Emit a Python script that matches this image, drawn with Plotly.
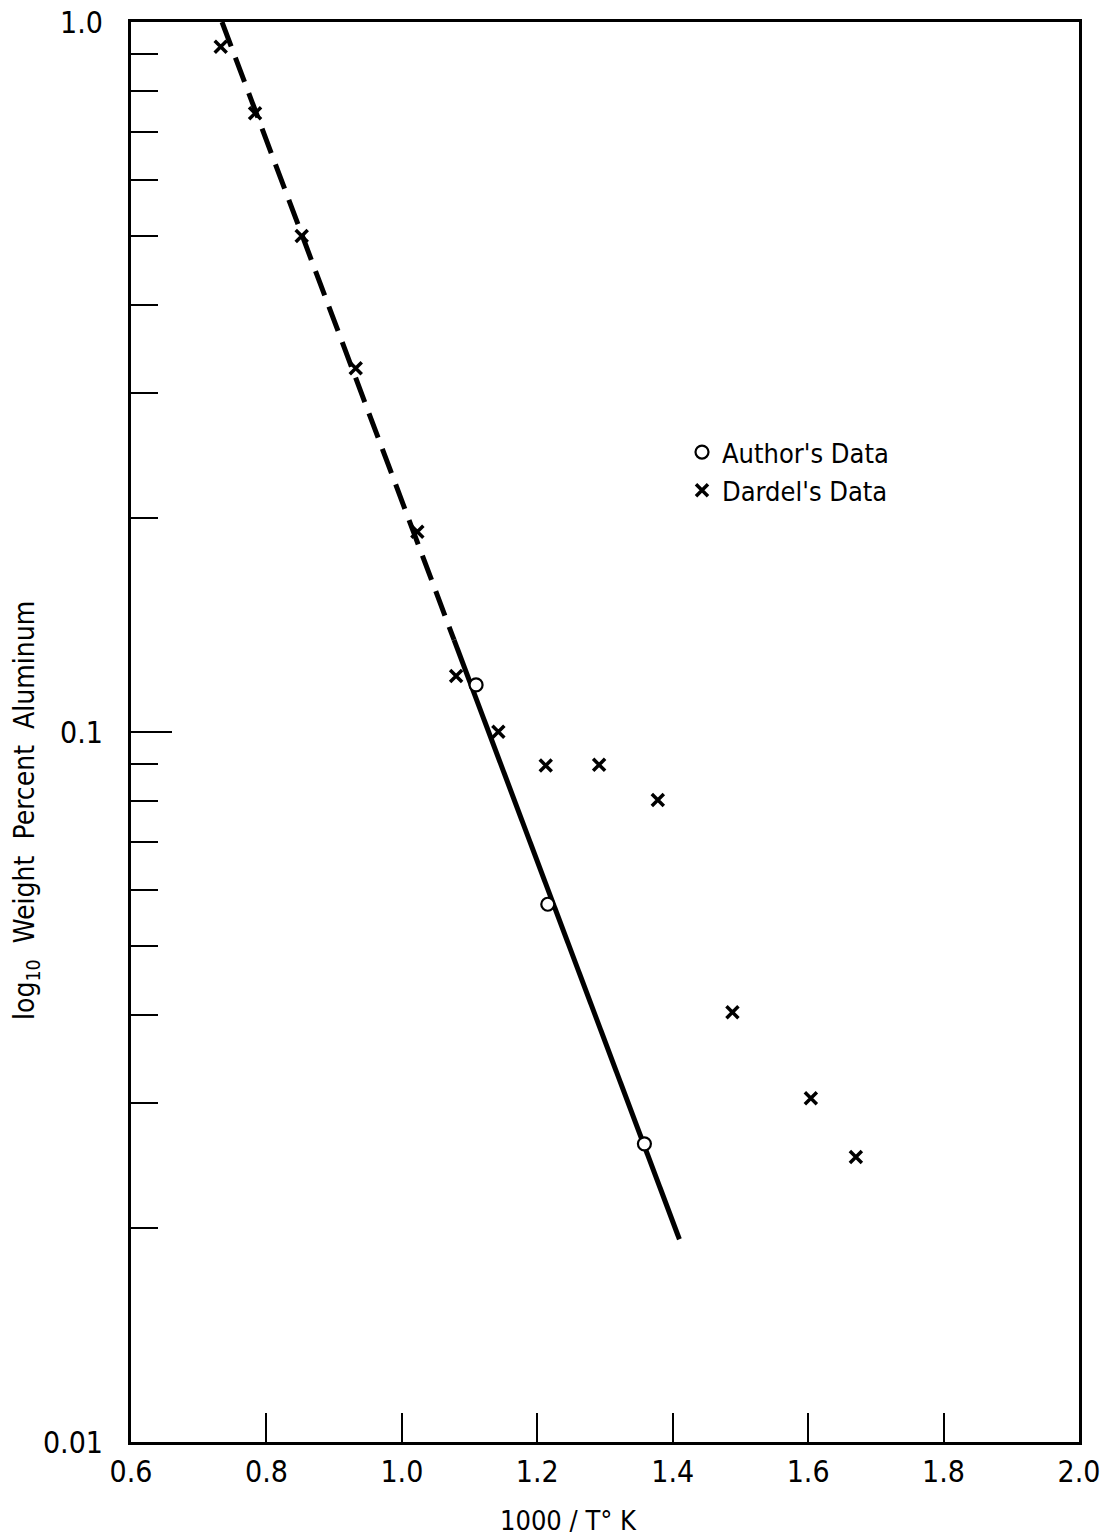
import plotly.graph_objects as go

# ---- data ----
dardel_x = [0.7325, 0.7832, 0.8521, 0.9319, 1.0229, 1.0801, 1.1425, 1.2125, 1.2913, 1.378, 1.4882, 1.604, 1.6705]
dardel_y = [0.923, 0.7437, 0.4995, 0.3253, 0.1915, 0.1199, 0.1001, 0.0897, 0.0899, 0.0802, 0.0403, 0.0305, 0.0252]

author_x = [1.1096, 1.2155, 1.3582]
author_y = [0.1165, 0.0572, 0.0263]

fit_dashed_x = [0.7344, 1.0771]
fit_dashed_y = [1.0, 0.1348]
fit_solid_x = [1.0771, 1.4099]
fit_solid_y = [0.1348, 0.0193]

x_tickvals = [0.6, 0.8, 1.0, 1.2, 1.4, 1.6, 1.8, 2.0]
x_ticktext = ["0.6", "0.8", "1.0", "1.2", "1.4", "1.6", "1.8", "2.0"]
y_tickvals = [0.01, 0.1, 1.0]
y_ticktext = ["0.01", "0.1", "1.0"]
y_minor_vals = [0.02, 0.03, 0.04, 0.05, 0.06, 0.07, 0.08, 0.09,
                0.2, 0.3, 0.4, 0.5, 0.6, 0.7, 0.8, 0.9]

FONT = "DejaVu Sans Condensed, sans-serif"

fig = go.Figure()

fig.add_trace(go.Scatter(x=fit_dashed_x, y=fit_dashed_y, mode="lines",
                         line=dict(color="black", width=5, dash="26px,12px"),
                         showlegend=False, hoverinfo="skip"))
fig.add_trace(go.Scatter(x=fit_solid_x, y=fit_solid_y, mode="lines",
                         line=dict(color="black", width=5),
                         showlegend=False, hoverinfo="skip"))
fig.add_trace(go.Scatter(x=author_x, y=author_y, mode="markers", name="Author's Data",
                         marker=dict(symbol="circle", size=13, color="white",
                                     line=dict(color="black", width=2.2))))
fig.add_trace(go.Scatter(x=dardel_x, y=dardel_y, mode="markers", name="Dardel's Data",
                         marker=dict(symbol="x-thin", size=12,
                                     line=dict(color="black", width=3.5))))

fig.update_layout(
    width=1107, height=1538,
    margin=dict(l=131, r=28, t=22, b=96, autoexpand=False),
    plot_bgcolor="white", paper_bgcolor="white",
    font=dict(family=FONT, size=28, color="black"),
    showlegend=True,
    legend=dict(x=(682 - 131) / 948, y=(1442 - 428) / 1420, xanchor="left", yanchor="top",
                bgcolor="rgba(0,0,0,0)", font=dict(family=FONT, size=27, color="black"),
                itemwidth=30, tracegroupgap=0),
    xaxis=dict(range=[0.6, 2.0], tickmode="array", tickvals=x_tickvals, ticktext=x_ticktext,
               ticks="inside", ticklen=29, tickwidth=2, tickcolor="black",
               showline=True, linecolor="black", linewidth=3, mirror=True,
               showgrid=False, zeroline=False, ticklabelstandoff=1, automargin=False,
               tickfont=dict(family=FONT, size=30, color="black")),
    yaxis=dict(type="log", range=[-2, 0], tickmode="array", tickvals=y_tickvals, ticktext=y_ticktext,
               ticks="inside", ticklen=41, tickwidth=2, tickcolor="black",
               showline=True, linecolor="black", linewidth=3, mirror=True,
               showgrid=False, zeroline=False, ticklabelstandoff=19, automargin=False,
               tickfont=dict(family=FONT, size=30, color="black"),
               minor=dict(tickmode="array", tickvals=y_minor_vals, ticks="inside",
                          ticklen=27, tickwidth=2, tickcolor="black", showgrid=False)),
    annotations=[
        dict(text="1000 / T\u00b0 K", xref="paper", yref="paper",
             x=(568 - 131) / 948, y=-(1520 - 1442) / 1420, xanchor="center", yanchor="middle",
             showarrow=False, font=dict(family=FONT, size=27, color="black")),
        dict(text="log<sub>10</sub>  Weight  Percent  Aluminum", xref="paper", yref="paper",
             x=-(131 - 26) / 948, y=(1442 - 811) / 1420, xanchor="center", yanchor="middle",
             textangle=-90, showarrow=False, font=dict(family=FONT, size=28, color="black")),
    ],
)

fig.write_html("out.html")
